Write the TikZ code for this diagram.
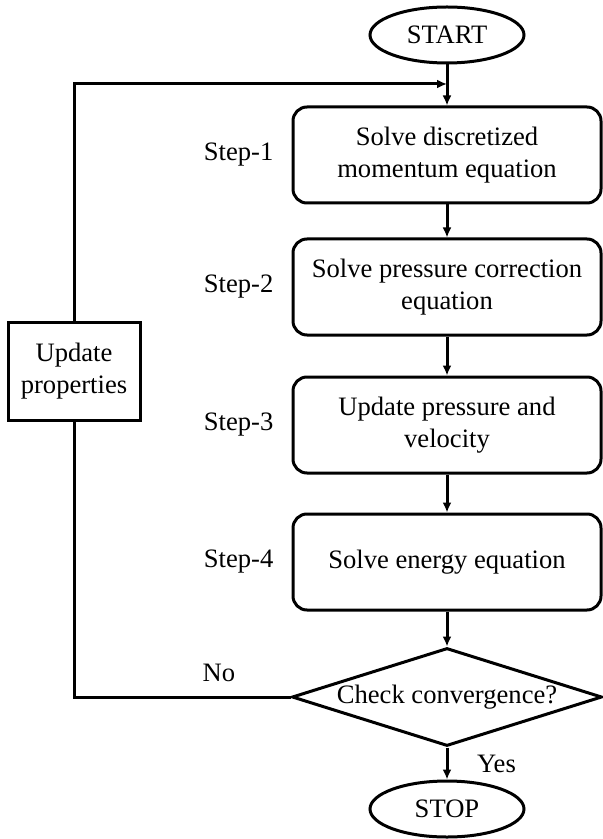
\documentclass[tikz,border=0pt]{standalone}
\usepackage{fontspec}
\setmainfont{Liberation Serif}
\usetikzlibrary{shapes.geometric,arrows.meta,positioning}
\begin{document}
\begin{tikzpicture}[x=0.5pt,y=-0.5pt,line width=1.5pt,
	font=\fontsize{13.3}{16}\selectfont,
	term/.style={draw,ellipse,minimum width=77pt,minimum height=28pt},
	stepbox/.style={draw,rounded corners=7pt,minimum width=154pt,minimum height=48pt,align=center},
	flow/.style={-{Latex[length=5pt,width=4.5pt]}}]
	\useasboundingbox (0,0) rectangle (602,839);
	\node[term] (start) at (447,35) {START};
	\node[stepbox] (s1) at (447,155) {Solve discretized\\momentum equation};
	\node[stepbox] (s2) at (447,287) {Solve pressure correction\\equation};
	\node[stepbox] (s3) at (447,425) {Update pressure and\\velocity};
	\node[stepbox] (s4) at (447,562) {Solve energy equation};
	\node[draw,diamond,shape aspect=3.2,inner sep=0pt,minimum width=155pt,minimum height=49pt] (check) at (447,697) {Check convergence?};
	\node[term] (stop) at (447,809) {STOP};
	\node[draw,align=center,minimum width=66pt,minimum height=49pt] (upd) at (74,371) {Update\\properties};
	% step labels
	\node[left=5pt of s1] (l1) {Step-1};
	\node[left=5pt of s2] (l2) {Step-2};
	\node[left=5pt of s3] (l3) {Step-3};
	\node[left=5pt of s4] (l4) {Step-4};
	\coordinate (join) at (447,84);
	\draw[flow] (start) -- (s1);
	\draw[flow] (s1) -- (s2);
	\draw[flow] (s2) -- (s3);
	\draw[flow] (s3) -- (s4);
	\draw[flow] (s4) -- (check);
	\draw[flow] (check) -- (stop) node[midway,right=11pt] (yes) {Yes};
	\draw (check.west) -| (upd.south);
	\draw[flow] (upd.north) |- (join);
	\node (no) at (219,673) {No};
\end{tikzpicture}
\end{document}
